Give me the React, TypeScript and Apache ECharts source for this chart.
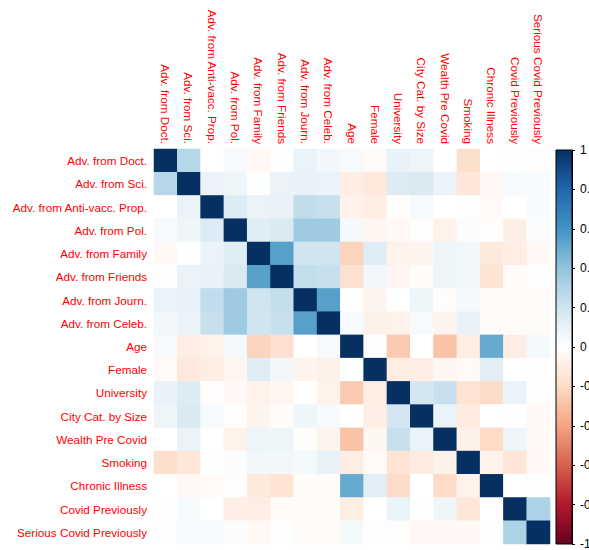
import React, { useEffect, useRef } from "react";
import * as echarts from "echarts";

const variables = [
  "Adv. from Doct.",
  "Adv. from Sci.",
  "Adv. from Anti-vacc. Prop.",
  "Adv. from Pol.",
  "Adv. from Family",
  "Adv. from Friends",
  "Adv. from Journ.",
  "Adv. from Celeb.",
  "Age",
  "Female",
  "University",
  "City Cat. by Size",
  "Wealth Pre Covid",
  "Smoking",
  "Chronic Illness",
  "Covid Previously",
  "Serious Covid Previously",
];

const rowDoct = [1, 0.29, 0, 0.04, -0.04, 0.01, 0.09, 0.06, 0.04, -0.03, 0.1, 0.08, 0, -0.18, 0, 0.01, -0.01];
const rowSci = [0.29, 1, 0.09, 0.07, 0.01, 0.09, 0.1, 0.09, -0.1, -0.13, 0.15, 0.16, 0.09, -0.14, -0.04, 0.04, 0.03];
const rowAnti = [0, 0.09, 1, 0.15, 0.09, 0.1, 0.25, 0.23, -0.07, -0.1, -0.01, 0.04, 0, 0.01, -0.03, 0, 0.03];
const rowPol = [0.04, 0.07, 0.15, 1, 0.14, 0.16, 0.36, 0.36, 0.05, -0.05, -0.04, -0.01, -0.07, 0.02, -0.01, -0.09, 0.02];
const rowFamily = [-0.04, 0.01, 0.09, 0.14, 1, 0.55, 0.2, 0.2, -0.23, 0.14, -0.07, -0.06, 0.08, 0.06, -0.12, -0.1, -0.04];
const rowFriends = [0.01, 0.09, 0.1, 0.16, 0.55, 1, 0.24, 0.23, -0.17, 0.06, -0.05, -0.02, 0.08, 0.06, -0.15, -0.02, 0.01];
const rowJourn = [0.09, 0.1, 0.25, 0.36, 0.2, 0.24, 1, 0.55, 0, -0.06, 0, 0.07, -0.01, 0.05, -0.02, -0.02, -0.02];
const rowCeleb = [0.06, 0.09, 0.23, 0.36, 0.2, 0.23, 0.55, 1, 0.04, -0.08, -0.07, 0.04, -0.06, 0.1, -0.02, -0.02, -0.02];
const rowAge = [0.04, -0.1, -0.07, 0.05, -0.23, -0.17, 0, 0.04, 1, 0.01, -0.26, 0, -0.29, -0.1, 0.51, -0.1, 0.05];
const rowFemale = [-0.03, -0.13, -0.1, -0.05, 0.14, 0.06, -0.06, -0.08, 0.01, 1, -0.1, -0.09, -0.05, -0.03, 0.13, 0, -0.01];
const rowUniversity = [0.1, 0.15, -0.01, -0.04, -0.07, -0.05, 0, -0.07, -0.26, -0.1, 1, 0.19, 0.23, -0.15, -0.19, 0.09, -0.01];
const rowCity = [0.08, 0.16, 0.04, -0.01, -0.06, -0.02, 0.07, 0.04, 0, -0.09, 0.19, 1, 0.09, -0.11, 0, 0.01, -0.04];
const rowWealth = [0, 0.09, 0, -0.07, 0.08, 0.08, -0.01, -0.06, -0.29, -0.05, 0.23, 0.09, 1, -0.08, -0.2, 0.07, -0.04];
const rowSmoking = [-0.18, -0.14, 0.01, 0.02, 0.06, 0.06, 0.05, 0.1, -0.1, -0.03, -0.15, -0.11, -0.08, 1, -0.07, -0.14, -0.04];
const rowChronic = [0, -0.04, -0.03, -0.01, -0.12, -0.15, -0.02, -0.02, 0.51, 0.13, -0.19, 0, -0.2, -0.07, 1, 0, 0.01];
const rowCovid = [0.01, 0.04, 0, -0.09, -0.1, -0.02, -0.02, -0.02, -0.1, 0, 0.09, 0.01, 0.07, -0.14, 0, 1, 0.32];
const rowSerious = [-0.01, 0.03, 0.03, 0.02, -0.04, 0.01, -0.02, -0.02, 0.05, -0.01, -0.01, -0.04, -0.04, -0.04, 0.01, 0.32, 1];

const corrRows = [
  rowDoct, rowSci, rowAnti, rowPol, rowFamily, rowFriends, rowJourn, rowCeleb,
  rowAge, rowFemale, rowUniversity, rowCity, rowWealth, rowSmoking, rowChronic, rowCovid, rowSerious,
];

// RdBu palette from -1 (first) to 1 (last)
const palette = [
  "#67001F", "#B2182B", "#D6604D", "#F4A582", "#FDDBC7", "#FFFFFF",
  "#D1E5F0", "#92C5DE", "#4393C3", "#2166AC", "#053061",
];

export default function App() {
  const ref = useRef<HTMLDivElement>(null);
  useEffect(() => {
    if (!ref.current) return;
    const chart = echarts.init(ref.current, null, { renderer: "svg" });
    const data: [number, number, number][] = [];
    corrRows.forEach((row, r) => {
      row.forEach((v, c) => data.push([c, r, v]));
    });
    const stops = palette
      .slice()
      .reverse()
      .map((color, i) => ({ offset: i / (palette.length - 1), color }));
    const font = "'Liberation Sans', Arial, sans-serif";
    chart.setOption({
      animation: false,
      backgroundColor: "#ffffff",
      grid: [
        { left: 154, top: 149, width: 396, height: 395, outerBoundsMode: "none", containLabel: false },
        { left: 556, top: 150, width: 16, height: 394, outerBoundsMode: "none", containLabel: false },
      ],
      xAxis: [
        {
          type: "category",
          gridIndex: 0,
          data: variables,
          position: "top",
          axisLine: { show: false },
          axisTick: { show: false },
          splitLine: { show: false },
          axisLabel: {
            rotate: 90,
            interval: 0,
            margin: 5,
            color: "#FF0000",
            fontSize: 11.7,
            fontFamily: font,
          },
        },
        {
          type: "value",
          gridIndex: 1,
          min: -1,
          max: 0,
          axisLine: { show: false, onZero: false },
          axisTick: { show: false },
          axisLabel: { show: false },
          splitLine: { show: false },
        },
      ],
      yAxis: [
        {
          type: "category",
          gridIndex: 0,
          data: variables,
          inverse: true,
          axisLine: { show: false },
          axisTick: { show: false },
          splitLine: { show: false },
          axisLabel: {
            interval: 0,
            margin: 7,
            color: "#FF0000",
            fontSize: 11.7,
            fontFamily: font,
          },
        },
        {
          type: "value",
          gridIndex: 1,
          min: -1,
          max: 1,
          interval: 0.2,
          position: "right",
          splitLine: { show: false },
          axisLine: { show: true, onZero: false, lineStyle: { color: "#000", width: 1 } },
          axisTick: { show: true, length: 3, lineStyle: { color: "#000" } },
          axisLabel: {
            margin: 8,
            color: "#000",
            fontSize: 12,
            fontFamily: font,
            formatter: (v: number) => String(Math.round(v * 10) / 10),
          },
        },
      ],
      visualMap: {
        type: "continuous",
        show: false,
        min: -1,
        max: 1,
        seriesIndex: 0,
        inRange: { color: palette },
      },
      graphic: [
        {
          type: "rect",
          shape: { x: 556, y: 150, width: 16, height: 394 },
          style: {
            fill: new echarts.graphic.LinearGradient(0, 0, 0, 1, stops),
            stroke: "#000",
            lineWidth: 1,
          },
          z: 1,
        },
      ],
      series: [
        {
          type: "heatmap",
          xAxisIndex: 0,
          yAxisIndex: 0,
          data,
          itemStyle: { borderWidth: 0 },
          emphasis: { disabled: true },
        },
        {
          type: "scatter",
          xAxisIndex: 1,
          yAxisIndex: 1,
          data: [],
        },
      ],
    });
    return () => chart.dispose();
  }, []);
  return (
    <div
      ref={ref}
      style={{ position: "fixed", left: 0, top: 0, width: 589, height: 550 }}
    />
  );
}
